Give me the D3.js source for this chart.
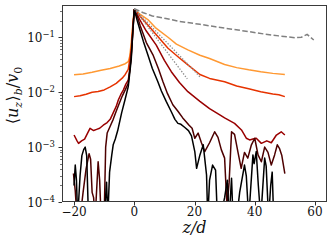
<!DOCTYPE html>
<html><head><meta charset="utf-8">
<script src="https://cdn.jsdelivr.net/npm/d3@7/dist/d3.min.js"></script>
<style>body{margin:0;background:#fff}svg{display:block}</style>
</head><body>
<svg id="c" width="332" height="244"></svg>
<script>
// ---- data: [z/d, <u_z>_b / v0] ----
const orangePts = [[-20,0.0208],[-17,0.0215],[-14,0.023],[-11,0.025],[-8,0.027],[-5,0.030],[-3,0.033],[-2,0.036],[-1.5,0.045],[-1,0.08],[-0.5,0.17],[0,0.32],[1,0.29],[2,0.26],[4.5,0.21],[7,0.15],[11.2,0.1],[14,0.075],[17.8,0.059],[21.8,0.047],[25,0.041],[30,0.032],[34,0.028],[38,0.0255],[42,0.0235],[46,0.022],[50,0.021]];
const redOrangePts = [[-20,0.0083],[-18,0.0086],[-16,0.0092],[-14,0.0100],[-12,0.0103],[-10,0.011],[-8,0.0125],[-6,0.0145],[-4,0.018],[-3,0.021],[-2,0.026],[-1,0.06],[-0.5,0.15],[0,0.32],[1,0.28],[2,0.24],[4.5,0.167],[7.4,0.11],[11.2,0.063],[15,0.042],[17.8,0.0315],[21.8,0.021],[25,0.0178],[30,0.0155],[34,0.013],[38,0.0115],[42,0.0102],[46,0.0093],[48,0.0090],[50,0.0083]];
const darkRedPts = [[-20,0.00166],[-19,0.0013],[-18.5,0.00117],[-17.5,0.0013],[-16.5,0.0014],[-15.5,0.0018],[-14.7,0.0022],[-13.5,0.0020],[-12.5,0.0021],[-11.5,0.0022],[-10.3,0.0025],[-9,0.0028],[-8,0.0032],[-7,0.0042],[-6,0.0055],[-5.3,0.0072],[-4.5,0.009],[-3.6,0.011],[-2.8,0.014],[-2,0.0166],[-1.5,0.025],[-1,0.05],[-0.5,0.13],[0,0.32],[1,0.26],[2,0.2],[4,0.13],[7.3,0.072],[10,0.038],[12.3,0.0236],[15,0.015],[17.8,0.0102],[21.8,0.0068],[25,0.005],[28.4,0.00385],[30,0.0034],[33.3,0.0027],[35.6,0.00205],[37.2,0.00145],[38.3,0.00135],[39.4,0.0014],[40.5,0.00145],[42.2,0.00117],[44,0.0013],[45.5,0.0012],[47.2,0.00166],[48.8,0.0019],[50,0.00166]];
const maroonPts = [[-20.2,3.3e-4],[-19.6,1.6e-4],[-19,5e-5],[-18,5e-5],[-17,1.5e-4],[-16,4e-4],[-15,7.6e-4],[-14.5,6e-4],[-14,1.5e-4],[-13.5,1.2e-4],[-13,5e-5],[-12,5.4e-4],[-11.5,2.5e-4],[-11,5e-5],[-10,5e-5],[-9.5,1e-3],[-9,0.0018],[-8,0.0024],[-7,0.0032],[-6,0.0045],[-5,0.0062],[-4,0.0085],[-3,0.011],[-2,0.0145],[-1,0.045],[-0.5,0.12],[0,0.32],[1,0.24],[2,0.16],[4,0.08],[6.2,0.048],[8,0.027],[9.5,0.0156],[11,0.0095],[12.8,0.0059],[14.5,0.0045],[16.1,0.0034],[17.2,0.0029],[18.2,0.0025],[19.2,0.0022],[20.1,1.45e-3],[21.2,1.8e-3],[22.3,1.2e-3],[23.4,8.3e-4],[25,1.2e-3],[26.7,1.9e-3],[27.8,1.5e-3],[28.9,9e-4],[30,6.3e-4],[30.8,8e-5],[31.5,2.3e-4],[32.3,1.9e-3],[33.3,1.7e-3],[34.4,8.3e-4],[35.5,4.1e-4],[36.6,8e-4],[37.7,6.3e-4],[38.9,1.1e-3],[40,1.45e-3],[41.1,7.2e-4],[42.2,5.4e-4],[43.3,1.0e-3],[44.4,8e-4],[45.5,4.7e-4],[46.6,7.2e-4],[47.5,1.1e-3],[48.2,9.5e-4],[49,7e-4],[50,3.3e-4]];
const blackPts = [[-20,2e-4],[-19.6,4.7e-4],[-19.2,2.5e-4],[-18.8,5e-5],[-18,3e-4],[-17.4,7e-4],[-16.8,9e-4],[-16.3,1e-3],[-15.8,7e-4],[-15.2,5e-5],[-14,5e-5],[-12,5e-5],[-10,5e-5],[-9.2,2.3e-4],[-8.8,5e-5],[-8.2,3.5e-4],[-7.5,7e-4],[-7,1.1e-3],[-6.3,1.4e-3],[-5.5,2.0e-3],[-4.2,4.2e-3],[-3.1,7.2e-3],[-2,0.0126],[-1,0.04],[-0.5,0.12],[0,0.32],[1,0.2],[2,0.13],[3,0.085],[4.5,0.048],[6,0.027],[7.8,0.0156],[9,0.0105],[10.6,0.0068],[12.3,0.0044],[13.5,0.0032],[14.5,0.0027],[15.5,0.0026],[16.7,0.0023],[18,0.002],[19,0.0016],[20.1,8.3e-4],[20.7,4.1e-4],[21.8,7.2e-4],[22.9,1.1e-3],[24,3.1e-4],[24.4,5e-5],[25,2.5e-4],[26,4.7e-4],[27,3.8e-4],[27.6,5e-5],[28.5,5e-5],[30,1.2e-4],[30.9,2.5e-4],[31.5,5e-5],[32.3,2.7e-4],[32.8,5e-5],[34,5e-5],[35,1.5e-4],[36.6,4.7e-4],[37.2,3e-4],[38,5e-5],[39.4,7.2e-4],[39.8,5e-4],[40.5,8.3e-4],[41.2,2e-4],[42,5e-5],[43.3,6.3e-4],[43.8,4.5e-4],[44.6,5e-5],[45.3,2e-4],[45.8,3.5e-4],[46.3,5e-5]];
const dashedPts = [[0,0.33],[3,0.28],[6,0.245],[10.5,0.22],[15,0.195],[21.8,0.172],[27,0.155],[32.6,0.14],[38,0.127],[43,0.115],[48,0.106],[53.5,0.098],[55.5,0.1],[57.4,0.113],[58.5,0.1],[59.6,0.089]];
const dotted1Pts = [[0,0.33],[17.6,0.0175]];
const dotted2Pts = [[0,0.33],[22,0.0186]];
const xTicks = [-20,0,20,40,60];
const yTicks = [-4,-3,-2,-1];

const series = [
  {pts: orangePts, color:"#ff9933"},
  {pts: redOrangePts, color:"#e63300"},
  {pts: darkRedPts, color:"#990000"},
  {pts: maroonPts, color:"#4d0000"},
  {pts: blackPts, color:"#000000"}
];

const L=62, R=327, T=5, B=202;
const svg = d3.select("#c");
const x = d3.scaleLinear().domain([-24,64]).range([L,R]);
const y = d3.scaleLog().domain([1e-4, 0.387]).range([B,T]);

svg.append("defs").append("clipPath").attr("id","clip")
  .append("rect").attr("x",L).attr("y",T).attr("width",R-L).attr("height",B-T);

const line = d3.line().x(d=>x(d[0])).y(d=>y(d[1]));
const g = svg.append("g").attr("clip-path","url(#clip)");
series.forEach(s=>{
  g.append("path").attr("d",line(s.pts)).attr("fill","none")
   .attr("stroke",s.color).attr("stroke-width",1.5).attr("stroke-linejoin","round");
});
g.append("path").attr("d",line(dashedPts)).attr("fill","none")
  .attr("stroke","#808080").attr("stroke-width",1.5).attr("stroke-dasharray","5.5,2.4");
[dotted1Pts,dotted2Pts].forEach(p=>{
  g.append("path").attr("d",line(p)).attr("fill","none")
   .attr("stroke","#8c8c8c").attr("stroke-width",1.3).attr("stroke-dasharray","1.4,1.6");
});

// frame
svg.append("rect").attr("x",L+0.5).attr("y",T+0.5).attr("width",R-L-1).attr("height",B-T-1)
  .attr("fill","none").attr("stroke","#3a3a3a").attr("stroke-width",1);

const font = "DejaVu Serif";
// x ticks
xTicks.forEach(t=>{
  const px = Math.round(x(t))+0.5;
  svg.append("line").attr("x1",px).attr("x2",px).attr("y1",B).attr("y2",B+3.5).attr("stroke","#333");
  svg.append("text").attr("x",x(t)).attr("y",216).attr("text-anchor","middle")
    .attr("font-family",font).attr("font-size",12).attr("fill","#111")
    .text(t<0? "\u2212"+Math.abs(t) : String(t));
});
// y ticks
yTicks.forEach(e=>{
  const py = Math.round(y(Math.pow(10,e)))+0.5;
  svg.append("line").attr("x1",L-3.5).attr("x2",L).attr("y1",py).attr("y2",py).attr("stroke","#333");
  const t = svg.append("text").attr("x",55).attr("y",py+4.3).attr("text-anchor","end")
    .attr("font-family",font).attr("font-size",12).attr("fill","#111");
  t.append("tspan").text("10");
  t.append("tspan").attr("dy",-5).attr("font-size",8.5).text("\u2212"+Math.abs(e));
});
// minor y ticks
for(let e=-4;e<0;e++){
  for(let m=2;m<=9;m++){
    const v=m*Math.pow(10,e);
    if(v>0.387) continue;
    const py = Math.round(y(v))+0.5;
    svg.append("line").attr("x1",L-2).attr("x2",L).attr("y1",py).attr("y2",py).attr("stroke","#333").attr("stroke-width",0.7);
  }
}
// x label
const xl = svg.append("text").attr("x",(L+R)/2).attr("y",233).attr("text-anchor","middle")
  .attr("font-family",font).attr("font-size",16).attr("font-style","italic").attr("fill","#111");
xl.text("z/d");
// y label
const yl = svg.append("text").attr("transform","translate(18,"+((T+B)/2-8)+") rotate(-90)")
  .attr("text-anchor","middle").attr("font-family",font).attr("font-size",16).attr("fill","#111");
yl.append("tspan").text("\u27E8");
yl.append("tspan").attr("font-style","italic").text("u");
yl.append("tspan").attr("font-style","italic").attr("font-size",11).attr("dy",3.5).text("z");
yl.append("tspan").attr("dy",-3.5).attr("dx",0.5).text("\u27E9");
yl.append("tspan").attr("font-style","italic").attr("font-size",11).attr("dy",3.5).text("b");
yl.append("tspan").attr("dy",-3.5).text("/");
yl.append("tspan").attr("font-style","italic").text("v");
yl.append("tspan").attr("font-size",11).attr("dy",3.5).text("0");
</script>
</body></html>
